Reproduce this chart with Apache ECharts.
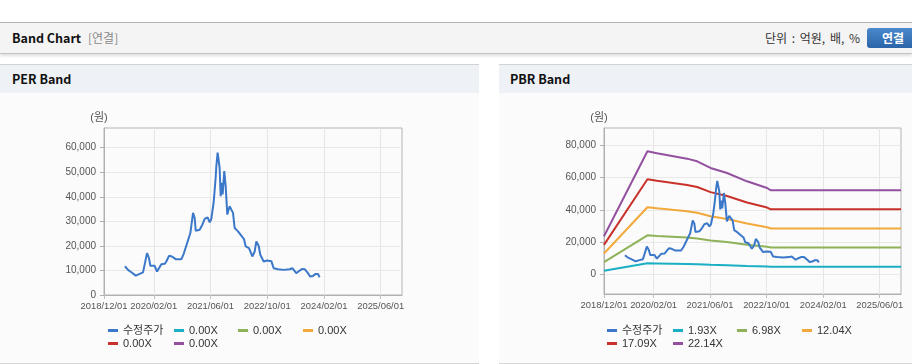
<!DOCTYPE html>
<html>
<head>
<meta charset="utf-8">
<script src="https://cdn.jsdelivr.net/npm/echarts@6/dist/echarts.min.js"></script>
<style>
body{margin:0;width:912px;height:364px;overflow:hidden;background:#fff;position:relative;
  font-family:'Noto Sans CJK KR','Liberation Sans',sans-serif;}
.hd{position:absolute;left:0;top:22px;width:912px;height:30px;background:#f4f4f4;
  border-top:1px solid #b4b4b4;border-bottom:1px solid #c4c4c4;box-shadow:0 2px 3px rgba(0,0,0,0.13);}
.hd .t{position:absolute;left:12px;top:0;line-height:30px;font-size:12.5px;font-weight:bold;color:#111;}
.hd .s{position:absolute;left:88px;top:0;line-height:30px;font-size:12px;color:#8a8a8a;}
.hd .u{position:absolute;right:52px;top:0;line-height:30px;font-size:12px;color:#333;word-spacing:2px;}
.hd .b{position:absolute;left:867px;top:5px;width:48px;height:20px;border-radius:3px;
  background:linear-gradient(#4a89cc,#2b64a8);color:#fff;font-size:12px;font-weight:bold;line-height:20px;text-indent:15px;}
.pn{position:absolute;top:64px;height:298px;background:#fbfbfb;border-top:1px solid #d2d2d2;border-bottom:1px solid #d6d6d6;}
.pn .ph{height:28px;background:#eef1f6;line-height:28px;padding-left:12px;font-size:12.5px;font-weight:bold;color:#111;}
#chart{position:absolute;left:0;top:0;width:912px;height:364px;}
</style>
</head>
<body>
<div class="hd"><span class="t">Band Chart</span><span class="s">[연결]</span>
  <span class="u">단위 : 억원, 배, %</span><span class="b">연결</span></div>
<div class="pn" style="left:0;width:479px;"><div class="ph">PER Band</div></div>
<div class="pn" style="left:499px;width:413px;"><div class="ph" style="padding-left:11px;">PBR Band</div></div>
<div id="chart"></div>
<script>
// 수정주가
var priceDates = ['2019/05/30','2019/06/25','2019/07/24','2019/08/30','2019/10/03','2019/11/01','2019/12/05','2019/12/22',
    '2020/01/03','2020/02/09','2020/02/29','2020/04/06','2020/05/05','2020/05/19','2020/06/11','2020/07/06','2020/08/07',
    '2020/09/25','2020/10/15','2020/11/06','2020/12/11','2021/01/03','2021/01/17','2021/01/26','2021/03/01','2021/03/24',
    '2021/04/13','2021/05/08','2021/05/26','2021/06/09','2021/06/29','2021/07/16','2021/07/22','2021/08/02','2021/08/14',
    '2021/08/19','2021/08/28','2021/09/08','2021/09/14','2021/09/28','2021/10/10','2021/10/24','2021/11/13','2021/11/30',
    '2021/12/12','2021/12/26','2022/01/24','2022/02/21','2022/03/16','2022/03/31','2022/04/28','2022/05/27','2022/06/16',
    '2022/06/30','2022/07/20','2022/08/03','2022/09/01','2022/09/30','2022/11/06','2022/11/26','2023/01/02','2023/02/20',
    '2023/04/12','2023/05/05','2023/06/08','2023/07/07','2023/07/30','2023/08/19','2023/09/16','2023/10/06','2023/10/29',
    '2023/11/21','2023/12/11','2023/12/25'];
var priceValues = [11700,10230,9280,7900,8600,9200,17050,15000,
    11870,11870,9550,12550,12700,13640,15960,15690,14600,
    14600,16780,20050,25230,33420,31370,26190,26600,28640,
    30960,31650,29600,30960,37780,47740,52510,57970,57290,
    51830,40240,45690,40920,50470,44330,32740,36150,36830,
    33420,27280,25920,24140,22780,19780,19100,15690,17730,
    21820,20050,16370,13640,14050,13780,10910,10500,10230,
    10500,10910,8870,9960,10640,10500,8870,7500,7775,
    8600,8600,7230];

// PBR 밴드
var bandDates = ['2018/12/01','2019/12/10','2020/03/01','2020/11/15','2021/02/10','2021/06/05','2021/10/25',
    '2022/04/15','2022/10/05','2022/11/07','2025/12/01'];
var pbr193 = [2046,6666,6562,6267,6122,5761,5489,5035,4673,4547,4547];
var pbr698 = [7399,24109,23732,22664,22141,20835,19851,18211,16899,16445,16445];
var pbr1204 = [12762,41586,40936,39094,38191,35939,34242,31412,29149,28366,28366];
var pbr1709 = [18115,59029,58106,55491,54209,51014,48604,44588,41375,40264,40264];
var pbr2214 = [23468,76472,75276,71889,70228,66088,62966,57763,53601,52162,52162];

var pbrNames = ['1.93X','6.98X','12.04X','17.09X','22.14X'];
var perNames = ['0.00X','0.00X','0.00X','0.00X','0.00X'];
var xTickLabels = ['2018/12/01','2020/02/01','2021/06/01','2022/10/01','2024/02/01','2025/06/01'];
var xMin = '2018/12/01', xMax = '2025/12/01';
var perYTicks = [0,10000,20000,30000,40000,50000,60000];
var pbrYTicks = [0,20000,40000,60000,80000];

var colors = ['#3b78c9','#1aafc4','#8db257','#f2a93b','#c8322b','#93509f'];

function toTime(s){ var p = s.split('/'); return new Date(+p[0], p[1]-1, +p[2]).getTime(); }
function pairs(dates, vals){ return dates.map(function(d,i){ return [toTime(d), vals[i]]; }); }
function comma(v){ return String(v).replace(/\B(?=(\d{3})+(?!\d))/g, ','); }
function dateFmt(v){
    var d = new Date(v);
    var m = d.getMonth()+1, dd = d.getDate();
    return d.getFullYear()+'/'+(m<10?'0'+m:m)+'/'+(dd<10?'0'+dd:dd);
}

var chart = echarts.init(document.getElementById('chart'));
var labelFont = "'Liberation Sans',sans-serif";
var legendFont = "'Liberation Sans','Noto Sans CJK KR',sans-serif";
var xTicks = xTickLabels.map(toTime);

function xAxisOf(idx){
    return {
        type:'value', gridIndex:idx, min:toTime(xMin), max:toTime(xMax),
        axisLine:{onZero:false, lineStyle:{color:'#b0b0b0'}},
        axisTick:{show:true, length:4, customValues:xTicks, lineStyle:{color:'#c0c0c0'}},
        axisLabel:{customValues:xTicks, formatter:dateFmt, showMinLabel:true, hideOverlap:false,
            color:'#555', fontSize:9.4, fontFamily:labelFont, margin:7},
        splitLine:{show:true, lineStyle:{color:'#e6e6e6'}}
    };
}
function yAxisOf(idx, min, max, ticks){
    return {
        type:'value', gridIndex:idx, min:min, max:max,
        name:'(원)', nameLocation:'end', nameGap:5,
        nameTextStyle:{color:'#555', fontSize:11, fontFamily:legendFont, padding:[0,10,0,0]},
        axisLine:{show:true, lineStyle:{color:'#b0b0b0'}},
        axisTick:{show:true, length:4, customValues:ticks, lineStyle:{color:'#b0b0b0'}},
        axisLabel:{customValues:ticks, formatter:comma, color:'#555', fontSize:10, fontFamily:labelFont, margin:8},
        splitLine:{show:true, lineStyle:{color:'#e8e8e8'}}
    };
}
function lineSeries(name, x, y, data, color){
    return {name:name, type:'line', xAxisIndex:x, yAxisIndex:y, data:data, showSymbol:false,
        lineStyle:{width:2, color:color}, itemStyle:{color:color}, z:(name==='수정주가'?5:2)};
}
var nameMap = {};
var perIds = ['PER1','PER2','PER3','PER4','PER5'];
perIds.forEach(function(id,i){ nameMap[id] = perNames[i]; });

// one legend per item, laid out in fixed columns (4 per row)
var colX = [0, 66, 130, 195], rowY = [325, 338];
function legendsOf(left, names){
    return names.map(function(n, i){
        return {left:left + colX[i % 4], top:rowY[Math.floor(i / 4)], padding:0,
            icon:'rect', itemWidth:10, itemHeight:3, data:[n],
            formatter:function(nm){ return nameMap[nm] || nm; },
            textStyle:{color:'#333', fontSize:11, fontFamily:legendFont}};
    });
}

var series = [lineSeries('수정주가',0,0,pairs(priceDates, priceValues),colors[0])];
perIds.forEach(function(id,i){ series.push(lineSeries(id,0,0,[],colors[i+1])); });
series.push(lineSeries('수정주가',1,1,pairs(priceDates, priceValues),colors[0]));
[pbr193,pbr698,pbr1204,pbr1709,pbr2214].forEach(function(arr,i){
    series.push(lineSeries(pbrNames[i],1,1,pairs(bandDates, arr),colors[i+1]));
});

var option = {
    animation:false,
    backgroundColor:'transparent',
    grid:[
        {left:104, top:128, width:298, height:167, show:true, borderColor:'#b4b4b4', borderWidth:1, backgroundColor:'transparent'},
        {left:604, top:128, width:297, height:166, show:true, borderColor:'#b4b4b4', borderWidth:1, backgroundColor:'transparent'}
    ],
    xAxis:[xAxisOf(0), xAxisOf(1)],
    yAxis:[yAxisOf(0, 0, 68000, perYTicks), yAxisOf(1, -12500, 91000, pbrYTicks)],
    legend:legendsOf(108, ['수정주가'].concat(perIds)).concat(legendsOf(607, ['수정주가'].concat(pbrNames))),
    series:series
};
chart.setOption(option);
</script>
</body>
</html>
